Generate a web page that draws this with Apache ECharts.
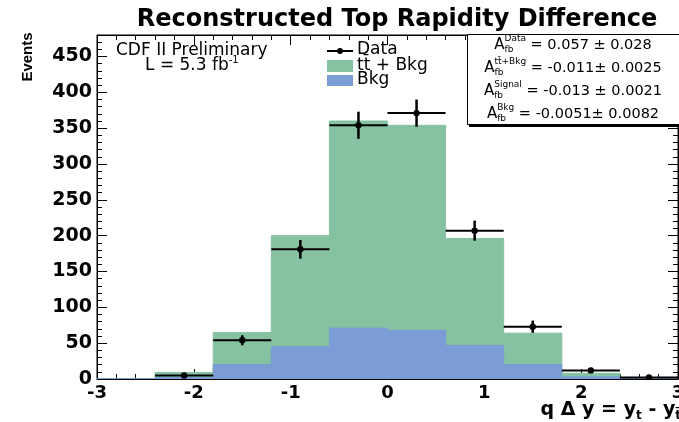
<!DOCTYPE html>
<html>
<head>
<meta charset="utf-8">
<script src="https://cdn.jsdelivr.net/npm/echarts@6/dist/echarts.min.js"></script>
<style>
  html, body { margin: 0; padding: 0; background: #fff; }
  #chart { width: 679px; height: 422px; }
</style>
</head>
<body>
<div id="chart"></div>
<script>
// Histogram binning in q·Δy
const binEdges = [-3.0, -2.4, -1.8, -1.2, -0.6, 0.0, 0.6, 1.2, 1.8, 2.4, 3.0];
// Expected ttbar + background per bin
const ttbarPlusBkg = [0, 9, 65, 200, 360, 354, 196, 64, 8, 1];
// Background-only expectation per bin
const bkgOnly = [0, 2, 20, 45, 71, 68, 47, 20, 3, 0.5];
// Observed data (bins 2..10): centres, counts, statistical errors
const dataCenters = [-2.1, -1.5, -0.9, -0.3, 0.3, 0.9, 1.5, 2.1, 2.7];
const dataCounts  = [5, 54, 181, 354, 371, 207, 73, 12, 2];
const dataErrors  = [2, 7, 13, 19, 19, 14, 8.5, 3.5, 1.5];
// Axis tick labels
const xTickLabels = [-3, -2, -1, 0, 1, 2, 3];
const yTickLabels = [0, 50, 100, 150, 200, 250, 300, 350, 400, 450];
// Asymmetry summary lines: superscript tag and value text
const afbTags   = ['Data', 'tt\u0304+Bkg', 'Signal', 'Bkg'];
const afbValues = [' = 0.057 \u00b1 0.028', ' = -0.011\u00b1 0.0025', ' = -0.013 \u00b1 0.0021', ' = -0.0051\u00b1 0.0082'];

const FONT = 'DejaVu Sans';
const GREEN = '#86c2a2';
const BLUE = '#7b9cd4';

const chart = echarts.init(document.getElementById('chart'));

// text measuring for composed (super/subscript) labels
const mctx = document.createElement('canvas').getContext('2d');
function textWidth(t, size, weight) {
  mctx.font = (weight || 'normal') + ' ' + size + 'px "' + FONT + '"';
  return mctx.measureText(t).width;
}
function composed(pieces, anchorX, centerY, align) {
  const widths = pieces.map(p => p.stack
    ? Math.max.apply(null, p.stack.map(q => textWidth(q.text, q.size, q.weight)))
    : textWidth(p.text, p.size, p.weight));
  const total = widths.reduce((a, b) => a + b, 0);
  let x = align === 'center' ? anchorX - total / 2 : (align === 'right' ? anchorX - total : anchorX);
  const out = [];
  pieces.forEach((p, i) => {
    (p.stack || [p]).forEach(q => {
      out.push({
        type: 'text', x: x, y: centerY + (q.dy || 0), z: 100,
        style: {
          text: q.text, fontSize: q.size, fontWeight: q.weight || 'normal', fontFamily: FONT,
          fill: '#000', textAlign: 'left', textVerticalAlign: 'middle'
        }
      });
    });
    x += widths[i];
  });
  return out;
}

const greenData = ttbarPlusBkg.map((v, i) => [binEdges[i], binEdges[i + 1], v]);
const blueData = bkgOnly.map((v, i) => [binEdges[i], binEdges[i + 1], v]);
const pointData = dataCounts.map((c, i) => [binEdges[i + 1], binEdges[i + 2], dataCenters[i], c, dataErrors[i]]);

function histItem(color) {
  return function (params, api) {
    const p0 = api.coord([api.value(0), 0]);
    const p1 = api.coord([api.value(1), api.value(2)]);
    return {
      type: 'rect',
      shape: { x: p0[0], y: p1[1], width: p1[0] - p0[0], height: p0[1] - p1[1] },
      // same-colour hairline closes the seams between neighbouring bins
      style: { fill: color, stroke: color, lineWidth: 1 }
    };
  };
}

function pointItem(params, api) {
  const lo = api.coord([api.value(0), api.value(3)]);
  const hi = api.coord([api.value(1), api.value(3)]);
  const c = api.coord([api.value(2), api.value(3)]);
  const up = api.coord([api.value(2), api.value(3) + api.value(4)]);
  const dn = api.coord([api.value(2), Math.max(0, api.value(3) - api.value(4))]);
  return {
    type: 'group',
    children: [
      { type: 'line', shape: { x1: lo[0], y1: lo[1], x2: hi[0], y2: hi[1] }, style: { stroke: '#000', lineWidth: 2 } },
      { type: 'line', shape: { x1: up[0], y1: up[1], x2: dn[0], y2: dn[1] }, style: { stroke: '#000', lineWidth: 2.5 } },
      { type: 'circle', shape: { cx: c[0], cy: c[1], r: 3.2 }, style: { fill: '#000' } }
    ]
  };
}

function xAxisDef(pos, withLabels) {
  return {
    type: 'value', position: pos, min: -3, max: 3, interval: 1,
    axisLine: { show: true, onZero: false, lineStyle: { color: '#000', width: 1 } },
    axisTick: { show: true, inside: true, length: 10, lineStyle: { color: '#000', width: 1 } },
    minorTick: { show: true, splitNumber: 5, length: 5, lineStyle: { color: '#000', width: 1 } },
    splitLine: { show: false },
    axisLabel: {
      show: withLabels, margin: 5, color: '#000', fontFamily: FONT, fontWeight: 'bold', fontSize: 18,
      showMinLabel: true, showMaxLabel: true,
      formatter: v => xTickLabels.indexOf(Math.round(v)) >= 0 ? String(Math.round(v)) : ''
    }
  };
}
function yAxisDef(pos, step, tickLen, withLabels) {
  return {
    type: 'value', position: pos, min: 0, max: 480, interval: step,
    axisLine: { show: withLabels || pos === 'right', onZero: false, lineStyle: { color: '#000', width: 1 } },
    axisTick: { show: true, inside: true, length: tickLen, lineStyle: { color: '#000', width: 1 } },
    splitLine: { show: false },
    axisLabel: {
      show: withLabels, margin: 5, color: '#000', fontFamily: FONT, fontWeight: 'bold', fontSize: 19,
      formatter: v => yTickLabels.indexOf(v) >= 0 ? String(v) : ''
    }
  };
}

const titleText = 'Reconstructed Top Rapidity Difference';
const titleSize = 24;
const titleLeft = 392 - textWidth(titleText, titleSize, 'bold') / 2;

// legend + annotations
const graphics = [];
// left annotation
graphics.push({ type: 'text', x: 116, y: 51, z: 100, style: { text: 'CDF II Preliminary', fontSize: 17, fontFamily: FONT, fill: '#000', textVerticalAlign: 'middle' } });
composed([{ text: 'L = 5.3 fb', size: 17 }, { text: '-1', size: 10, dy: -6 }], 145, 66, 'left').forEach(g => graphics.push(g));
// legend
graphics.push({ type: 'line', z: 100, shape: { x1: 327, y1: 51, x2: 353, y2: 51 }, style: { stroke: '#000', lineWidth: 2 } });
graphics.push({ type: 'circle', z: 100, shape: { cx: 340, cy: 51, r: 3 }, style: { fill: '#000' } });
graphics.push({ type: 'rect', z: 100, shape: { x: 327, y: 60, width: 26, height: 12 }, style: { fill: GREEN } });
graphics.push({ type: 'rect', z: 100, shape: { x: 327, y: 75, width: 26, height: 11 }, style: { fill: BLUE } });
graphics.push({ type: 'text', x: 357, y: 50, z: 100, style: { text: 'Data', fontSize: 17, fontFamily: FONT, fill: '#000', textVerticalAlign: 'middle' } });
graphics.push({ type: 'text', x: 357, y: 66, z: 100, style: { text: 'tt\u0304 + Bkg', fontSize: 17, fontFamily: FONT, fill: '#000', textVerticalAlign: 'middle' } });
graphics.push({ type: 'text', x: 357, y: 80, z: 100, style: { text: 'Bkg', fontSize: 17, fontFamily: FONT, fill: '#000', textVerticalAlign: 'middle' } });
// asymmetry box
graphics.push({ type: 'rect', z: 90, shape: { x: 467.5, y: 34.5, width: 220, height: 90 }, style: { fill: '#fff', stroke: '#000', lineWidth: 1 } });
graphics.push({ type: 'rect', z: 91, shape: { x: 469, y: 124, width: 215, height: 3 }, style: { fill: '#000' } });
const afbRows = [45, 68, 91, 114];
afbTags.forEach((tag, i) => {
  composed([
    { text: 'A', size: 15 },
    { stack: [{ text: tag, size: 9, dy: -6 }, { text: 'fb', size: 9, dy: 5 }] },
    { text: afbValues[i], size: 14.5 }
  ], 573, afbRows[i], 'center').forEach(g => graphics.push(g));
});
// axis titles
graphics.push({ type: 'text', x: 28, y: 57, rotation: Math.PI / 2, z: 100, style: { text: 'Events', fontSize: 15, fontWeight: 'bold', fontFamily: 'Liberation Sans', fill: '#000', textAlign: 'center', textVerticalAlign: 'middle' } });
composed([
  { text: 'q \u0394 y = y', size: 19, weight: 'bold' },
  { text: 't', size: 12, weight: 'bold', dy: 6 },
  { text: ' - y', size: 19, weight: 'bold' },
  { text: 't\u0304', size: 12, weight: 'bold', dy: 6 }
], 681, 410, 'right').forEach(g => graphics.push(g));

chart.setOption({
  animation: false,
  backgroundColor: '#fff',
  title: {
    text: titleText, left: titleLeft, top: 3,
    textStyle: { fontFamily: FONT, fontWeight: 'bold', fontSize: titleSize, color: '#000' }
  },
  grid: {
    left: 97, right: 1, top: 35, bottom: 43, outerBoundsMode: 'none', containLabel: false,
    show: true, borderColor: '#000', borderWidth: 1, backgroundColor: 'transparent'
  },
  xAxis: [xAxisDef('bottom', true), xAxisDef('top', false)],
  yAxis: [
    yAxisDef('left', 50, 10, true),
    yAxisDef('left', 10, 5, false),
    yAxisDef('right', 50, 10, false),
    yAxisDef('right', 10, 5, false)
  ],
  series: [
    { name: 'tt\u0304 + Bkg', type: 'custom', renderItem: histItem(GREEN), data: greenData, encode: { x: [0, 1], y: 2 }, clip: true, z: 1 },
    { name: 'Bkg', type: 'custom', renderItem: histItem(BLUE), data: blueData, encode: { x: [0, 1], y: 2 }, clip: true, z: 2 },
    { name: 'Data', type: 'custom', renderItem: pointItem, data: pointData, encode: { x: [0, 1, 2], y: 3 }, clip: true, z: 3 }
  ],
  graphic: graphics
});
</script>
</body>
</html>
